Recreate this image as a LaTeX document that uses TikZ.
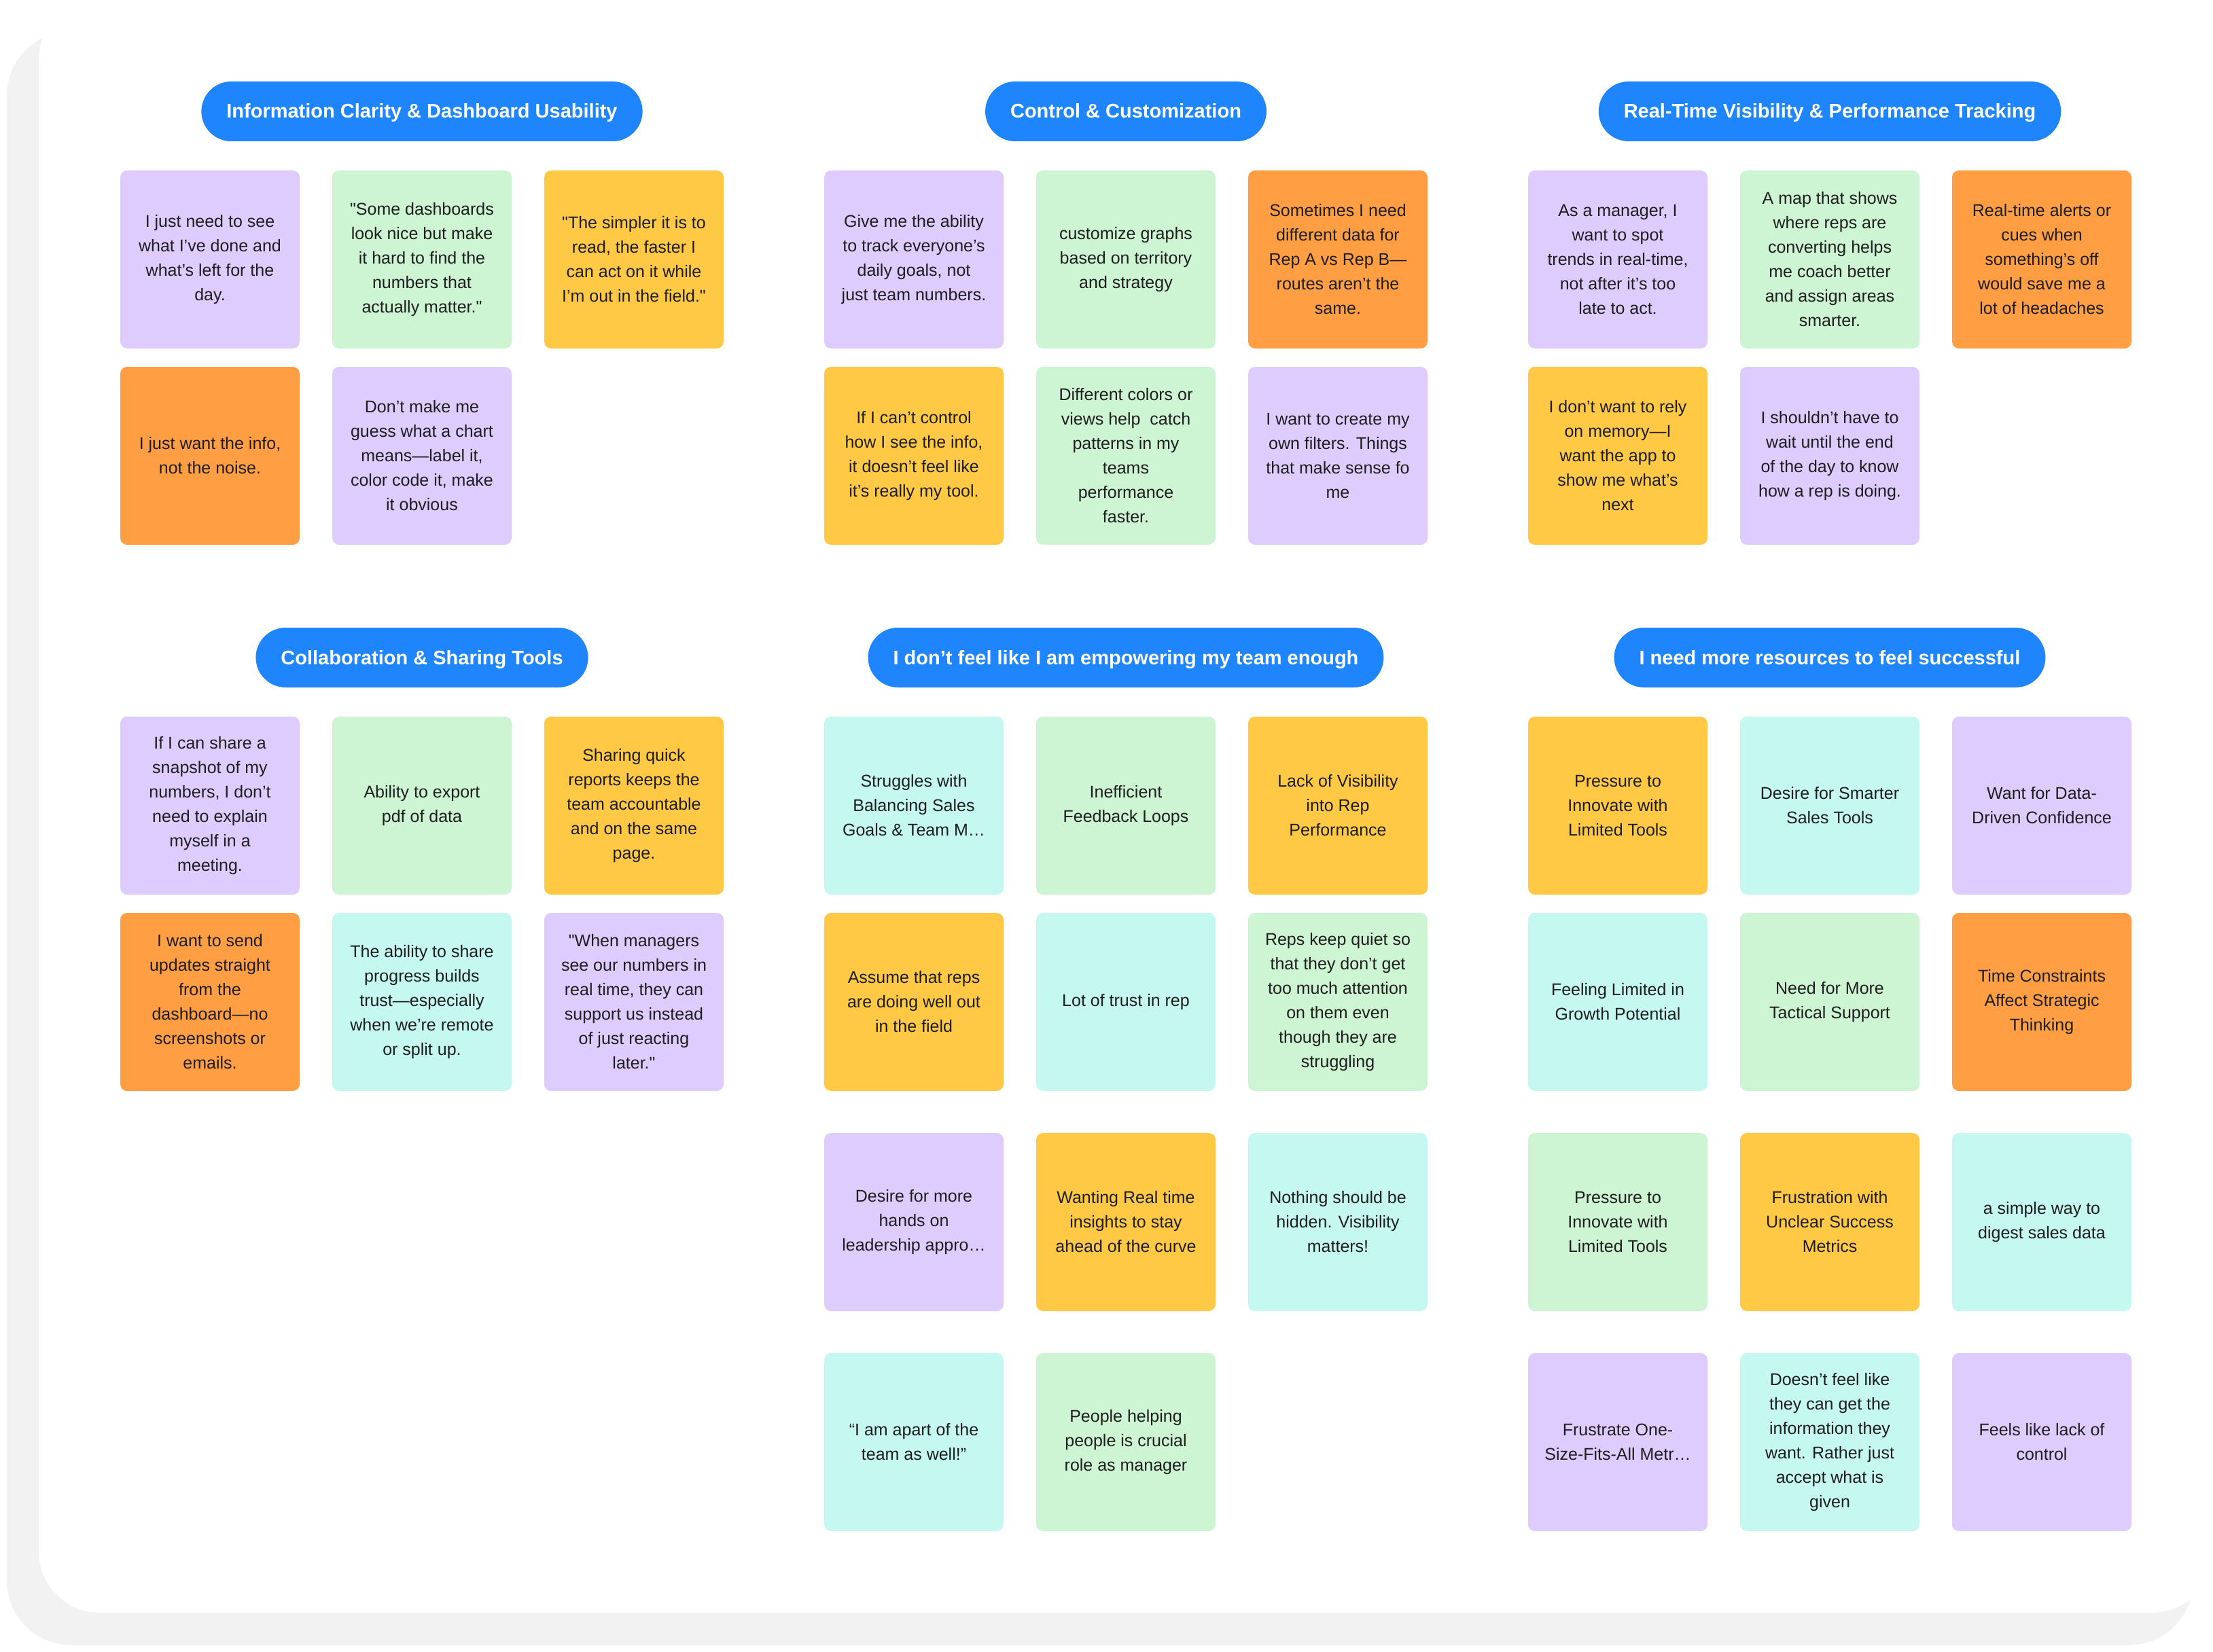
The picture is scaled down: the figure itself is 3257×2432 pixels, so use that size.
\documentclass[tikz,border=0pt]{standalone}
\usepackage{fontspec}
\setmainfont{Liberation Sans}
\usepackage{tikz}
\definecolor{Ink}{HTML}{1E1E1E}
\definecolor{Frame}{HTML}{F2F2F2}
\definecolor{Pill}{HTML}{1E85FC}
\definecolor{Lilac}{HTML}{DECCFF}
\definecolor{Mint}{HTML}{CDF4D3}
\definecolor{Sun}{HTML}{FFC845}
\definecolor{Tang}{HTML}{FF9E42}
\definecolor{Aqua}{HTML}{C6F8F2}
\begin{document}
\begin{tikzpicture}[x=1pt,y=-1pt,
    note/.style={rectangle,rounded corners=10pt,minimum width=264pt,minimum height=262pt,
      inner sep=0pt,align=center,text=Ink,font=\fontsize{25}{36}\selectfont},
    pill/.style={rectangle,rounded corners=44pt,fill=Pill,text=white,minimum height=88pt,
      inner xsep=37pt,inner ysep=0pt,text height=20pt,text depth=0pt,
      font=\bfseries\fontsize{29}{35}\selectfont}]
        \useasboundingbox (0,0) rectangle (3257,2432);
        \fill[Frame,rounded corners=95pt] (10,46) rectangle (3228,2422);
        \fill[white,rounded corners=90pt] (57,-2) rectangle (3257,2374);
        \foreach \x/\y/\txt [count=\i] in {
          621/164/{Information Clarity \& Dashboard Usability},
          1657/164/{Control \& Customization},
          2693/164/{Real-Time Visibility \& Performance Tracking},
          621/968/{Collaboration \& Sharing Tools},
          1657/968/{I don’t feel like I am empowering my team enough},
          2693/968/{I need more resources to feel successful}}{
          \node[pill] (theme\i) at (\x,\y) {\txt};
        }
        \foreach \x/\y/\col/\txt [count=\i] in {
          177/251/Lilac/{I just need to see\\what I’ve done and\\what’s left for the\\day.},
          489/251/Mint/{\textquotedbl Some dashboards\\look nice but make\\it hard to find the\\numbers that\\actually matter.\textquotedbl},
          801/251/Sun/{\textquotedbl The simpler it is to\\read, the faster I\\can act on it while\\I’m out in the field.\textquotedbl},
          177/540/Tang/{I just want the info,\\not the noise.},
          489/540/Lilac/{Don’t make me\\guess what a chart\\means—label it,\\color code it, make\\it obvious},
          1213/251/Lilac/{Give me the ability\\to track everyone’s\\daily goals, not\\just team numbers.},
          1525/251/Mint/{customize graphs\\based on territory\\and strategy},
          1837/251/Tang/{Sometimes I need\\different data for\\Rep A vs Rep B—\\routes aren’t the\\same.},
          1213/540/Sun/{If I can’t control\\how I see the info,\\it doesn’t feel like\\it’s really my tool.},
          1525/540/Mint/{Different colors or\\views help\ \ catch\\patterns in my\\teams\\performance\\faster.},
          1837/540/Lilac/{I want to create my\\own filters. Things\\that make sense fo\\me},
          2249/251/Lilac/{As a manager, I\\want to spot\\trends in real-time,\\not after it’s too\\late to act.},
          2561/251/Mint/{A map that shows\\where reps are\\converting helps\\me coach better\\and assign areas\\smarter.},
          2873/251/Tang/{Real-time alerts or\\cues when\\something’s off\\would save me a\\lot of headaches},
          2249/540/Sun/{I don’t want to rely\\on memory—I\\want the app to\\show me what’s\\next},
          2561/540/Lilac/{I shouldn’t have to\\wait until the end\\of the day to know\\how a rep is doing.},
          177/1055/Lilac/{If I can share a\\snapshot of my\\numbers, I don’t\\need to explain\\myself in a\\meeting.},
          489/1055/Mint/{Ability to export\\pdf of data},
          801/1055/Sun/{Sharing quick\\reports keeps the\\team accountable\\and on the same\\page.},
          177/1344/Tang/{I want to send\\updates straight\\from the\\dashboard—no\\screenshots or\\emails.},
          489/1344/Aqua/{The ability to share\\progress builds\\trust—especially\\when we’re remote\\or split up.},
          801/1344/Lilac/{\textquotedbl When managers\\see our numbers in\\real time, they can\\support us instead\\of just reacting\\later.\textquotedbl},
          1213/1055/Aqua/{Struggles with\\Balancing Sales\\Goals \& Team M…},
          1525/1055/Mint/{Inefficient\\Feedback Loops},
          1837/1055/Sun/{Lack of Visibility\\into Rep\\Performance},
          1213/1344/Sun/{Assume that reps\\are doing well out\\in the field},
          1525/1344/Aqua/{Lot of trust in rep},
          1837/1344/Mint/{Reps keep quiet so\\that they don’t get\\too much attention\\on them even\\though they are\\struggling},
          1213/1668/Lilac/{Desire for more\\hands on\\leadership appro…},
          1525/1668/Sun/{Wanting Real time\\insights to stay\\ahead of the curve},
          1837/1668/Aqua/{Nothing should be\\hidden. Visibility\\matters!},
          1213/1992/Aqua/{“I am apart of the\\team as well!”},
          1525/1992/Mint/{People helping\\people is crucial\\role as manager},
          2249/1055/Sun/{Pressure to\\Innovate with\\Limited Tools},
          2561/1055/Aqua/{Desire for Smarter\\Sales Tools},
          2873/1055/Lilac/{Want for Data-\\Driven Confidence},
          2249/1344/Aqua/{Feeling Limited in\\Growth Potential},
          2561/1344/Mint/{Need for More\\Tactical Support},
          2873/1344/Tang/{Time Constraints\\Affect Strategic\\Thinking},
          2249/1668/Mint/{Pressure to\\Innovate with\\Limited Tools},
          2561/1668/Sun/{Frustration with\\Unclear Success\\Metrics},
          2873/1668/Aqua/{a simple way to\\digest sales data},
          2249/1992/Lilac/{Frustrate One-\\Size-Fits-All Metr…},
          2561/1992/Aqua/{Doesn’t feel like\\they can get the\\information they\\want. Rather just\\accept what is\\given},
          2873/1992/Lilac/{Feels like lack of\\control}}{
          \node[note,fill=\col] (note\i) at (\x+132,\y+131) {\txt};
        }
      \end{tikzpicture}
\end{document}
